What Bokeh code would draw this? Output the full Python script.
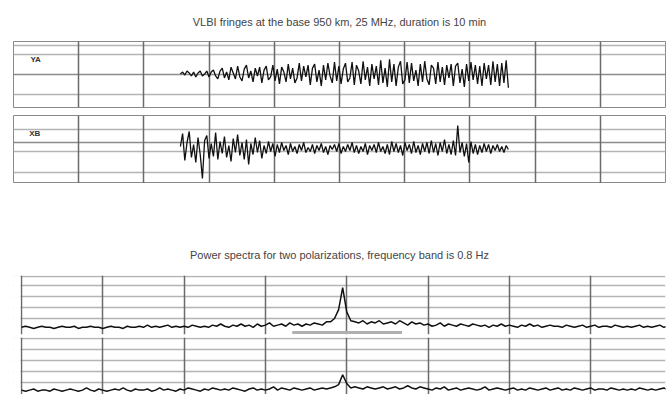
import numpy as np
from bokeh.plotting import figure
from bokeh.layouts import column
from bokeh.models import Range1d, FixedTicker, Grid, Label, BoxAnnotation
from bokeh.embed import file_html
from bokeh.resources import INLINE

# ---------------- data ----------------
title_top = "VLBI fringes at the base 950 km, 25 MHz, duration is 10 min"
title_bottom = "Power spectra for two polarizations, frequency band is 0.8 Hz"
label_a = "YA"
label_b = "XB"

# fringe time span (in grid units, 10 units per division)
t_start = 25.6
t_end = 75.9

fringe_a = [0, 2, -1, 3, 1, -2, 2, -3, 1, 3, -2, 0, 3, -3, 2,
            4, -2, -5, 3, 6, -4, 2, -6, 7, 1, -5, 8, -3, -7, 5,
            9, -4, 3, -8, 6, -2, 7, -9, 4, 8, -6, -3, 9, -7, 5,
            -10, 7, 2, -8, 10, -5, 6, -9, -4, 11, -7, 8, -3, 9, -11,
            6, 10, -8, 4, -12, 9, -6, 11, -2, -9, 12, -7, 8, -10, 5,
            11, -8, -4, 12, -11, 9, 3, -10, 13, -6, 7, -12, 10, -5, 8,
            -11, 14, -9, 6, -13, 15, -8, 10, -12, 7, 13, -10, -6, 12, -9,
            11, -7, 4, -12, 10, -8, 13, -5, -11, 9, 6, -10, 12, -8, 7,
            -11, 9, -4, 10, -12, 8, 11, -9, 5, -13, 10, -7, 12, -6, 9,
            -10, 8, -12, 11, -5, 9, -11, 13, -8, 10, -12, 11, -9, 14, -14]

fringe_b = [2, 15, -12, 6, 17, -9, 4, -14, 11, -6, -30, 8, 13, -10, 5,
            -8, 16, -11, 7, -5, 12, -9, 3, -13, 10, -4, 14, -7, 6, -11,
            9, -16, 5, -6, 11, -4, 8, -10, 3, -5, 7, -3, 5, -8, 4,
            -4, 6, -2, 3, -6, 5, -3, 2, -5, 4, -2, 6, -4, 1, -3,
            4, -5, 3, -2, 5, -4, 2, -6, 3, -1, 4, -3, 5, -5, 2,
            -3, 4, -2, 6, -4, 3, -5, 2, -3, 5, -6, 3, -2, 4, -4,
            6, -3, 2, -5, 4, -6, 7, -3, 5, -4, 3, -7, 6, -2, 4,
            -5, 7, -4, 3, -6, 5, -3, 6, -5, 8, -4, 5, -7, 6, -3,
            9, -5, 4, -6, 8, -7, 23, -4, 6, -8, 5, -14, 7, -5, 4,
            -6, 3, -4, 5, -3, 4, -5, 3, -2, 4, -3, 2, -4, 3, -1]

# spectra frequency span (grid units, 10 per division, centre 0)
f_start = -40.0
f_end = 39.5

spec_a = [2, 3, 2, 1, 2, 3, 2, 2, 1, 2,
          3, 2, 2, 3, 1, 2, 2, 3, 2, 2,
          1, 2, 3, 2, 2, 1, 3, 2, 2, 3,
          2, 4, 2, 3, 2, 3, 4, 2, 3, 2,
          3, 2, 4, 3, 2, 3, 2, 4, 3, 5,
          3, 2, 4, 3, 5, 3, 4, 2, 5, 3,
          4, 6, 3, 4, 5, 3, 6, 4, 5, 3,
          5, 4, 6, 5, 4, 7, 7, 10, 18, 38,
          16, 8, 7, 6, 8, 5, 7, 6, 8, 5,
          6, 7, 5, 8, 6, 4, 7, 5, 6, 4,
          5, 3, 4, 6, 3, 5, 4, 3, 5, 4,
          3, 5, 4, 3, 4, 2, 4, 3, 5, 3,
          4, 3, 2, 4, 3, 5, 3, 4, 2, 3,
          4, 3, 3, 2, 4, 3, 2, 3, 4, 2,
          3, 4, 2, 3, 3, 2, 4, 3, 2, 3,
          2, 3, 4, 2, 3, 2, 3, 4, 2, 3]

spec_b = [3, 2, 3, 4, 2, 3, 3, 2, 4, 3,
          2, 3, 4, 3, 2, 3, 5, 3, 2, 4,
          3, 2, 3, 4, 3, 5, 3, 2, 4, 3,
          3, 4, 2, 3, 5, 3, 4, 3, 2, 4,
          3, 5, 4, 3, 2, 4, 3, 5, 4, 3,
          4, 3, 5, 4, 3, 2, 4, 5, 3, 4,
          3, 4, 6, 3, 5, 4, 3, 5, 4, 3,
          4, 5, 3, 4, 5, 4, 5, 6, 8, 17,
          9, 5, 6, 5, 4, 6, 5, 4, 5, 6,
          4, 5, 6, 4, 5, 7, 5, 4, 6, 5,
          4, 3, 5, 4, 6, 3, 4, 5, 3, 4,
          5, 4, 3, 4, 6, 3, 4, 5, 4, 3,
          4, 5, 3, 4, 3, 5, 4, 3, 4, 5,
          3, 4, 5, 3, 4, 3, 5, 4, 3, 4,
          5, 3, 4, 4, 3, 5, 4, 3, 4, 3,
          4, 3, 5, 4, 3, 4, 3, 4, 5, 3]

# marker segment under the spectral peak
gate_x = [-6.7, 6.8]
gate_y = [-2.7, -2.7]

top_vticks = [10, 20, 30, 40, 50, 60, 70, 80, 90]
a_light = [29, 20, -21]
a_dark = [-1]
b_light = [19, -3, -24]
b_dark = [6]
bot_vticks = [-40, -30, -20, -10, 0, 10, 20, 30]
spec_a_hticks = [10, 20, 30, 40, 48.5]
spec_b_hticks = [10, 20, 30, 40, 50.5]

# ---------------- helpers ----------------
FONT = "Liberation Sans"
VCOL = "#6a6a6a"
HCOL = "#b4b4b4"


def base_fig(height, xr, yr, top, bottom, title=None, outline=True, standoff=12):
    kw = dict(width=667, height=height, x_range=xr, y_range=yr,
              output_backend="svg", toolbar_location=None,
              x_axis_location=None, y_axis_location=None,
              min_border_left=13, min_border_right=2 if outline else 0,
              min_border_top=top, min_border_bottom=bottom,
              background_fill_color="white", border_fill_color="white",
              outline_line_color="#8a8a8a" if outline else None,
              outline_line_width=1)
    if title is not None:
        kw["title"] = title
    p = figure(**kw)
    for g in p.grid:
        g.visible = False
    if title is not None:
        p.title.text_font = FONT
        p.title.text_font_size = "11px"
        p.title.text_font_style = "normal"
        p.title.text_color = "#444444"
        p.title.align = "center"
        p.title.standoff = standoff
    return p


def add_grid(p, dim, ticks, color, width):
    p.add_layout(Grid(dimension=dim, ticker=FixedTicker(ticks=ticks),
                      grid_line_color=color, grid_line_width=width))


t_a = np.linspace(t_start, t_end, len(fringe_a))
t_b = np.linspace(t_start, t_end, len(fringe_b))
f_a = np.linspace(f_start, f_end, len(spec_a))
f_b = np.linspace(f_start, f_end, len(spec_b))

# ---------------- panel 1 ----------------
p1 = base_fig(111, Range1d(0, 100), Range1d(-34, 33), 40, 4, title_top, standoff=27)
add_grid(p1, 1, a_light, HCOL, 1.5)
add_grid(p1, 1, a_dark, "#8c8c8c", 1.5)
add_grid(p1, 0, top_vticks, VCOL, 1.5)
p1.line(t_a, fringe_a, color="#111111", line_width=1.3)
p1.add_layout(Label(x=2.6, y=15, text=label_a, text_font=FONT,
                    text_font_size="8px", text_font_style="bold",
                    text_color="#333333", text_baseline="middle"))

# ---------------- panel 2 ----------------
p2 = base_fig(72, Range1d(0, 100), Range1d(-35, 33), 4, 0)
add_grid(p2, 1, b_light, HCOL, 1.5)
add_grid(p2, 1, b_dark, "#8c8c8c", 1.5)
add_grid(p2, 0, top_vticks, VCOL, 1.5)
p2.line(t_b, fringe_b, color="#111111", line_width=1.3)
p2.add_layout(Label(x=2.4, y=15, text=label_b, text_font=FONT,
                    text_font_size="8px", text_font_style="bold",
                    text_color="#333333", text_baseline="middle"))

# ---------------- panel 3 ----------------
x_lo = f_start - 0.98


def blank_left(p):
    p.add_layout(BoxAnnotation(left=x_lo, right=f_start - 0.12,
                               fill_color="white", fill_alpha=1.0,
                               line_alpha=0))


p3 = base_fig(152, Range1d(x_lo, 39.2), Range1d(-4.5, 49), 92, 1, title_bottom,
              outline=False, standoff=29)
add_grid(p3, 1, spec_a_hticks, HCOL, 1.5)
add_grid(p3, 0, bot_vticks, VCOL, 1.5)
p3.line(gate_x, gate_y, color="#b0b0b0", line_width=3)
p3.line(f_a, spec_a, color="#111111", line_width=1.5)
blank_left(p3)

# ---------------- panel 4 ----------------
p4 = base_fig(59, Range1d(x_lo, 39.2), Range1d(-1, 51), 2, 0, outline=False)
add_grid(p4, 1, spec_b_hticks, HCOL, 1.5)
add_grid(p4, 0, bot_vticks, VCOL, 1.5)
p4.line(f_b, spec_b, color="#111111", line_width=1.5)
blank_left(p4)

layout = column(p1, p2, p3, p4, spacing=0)

open("out.html", "w").write(file_html(layout, INLINE))
